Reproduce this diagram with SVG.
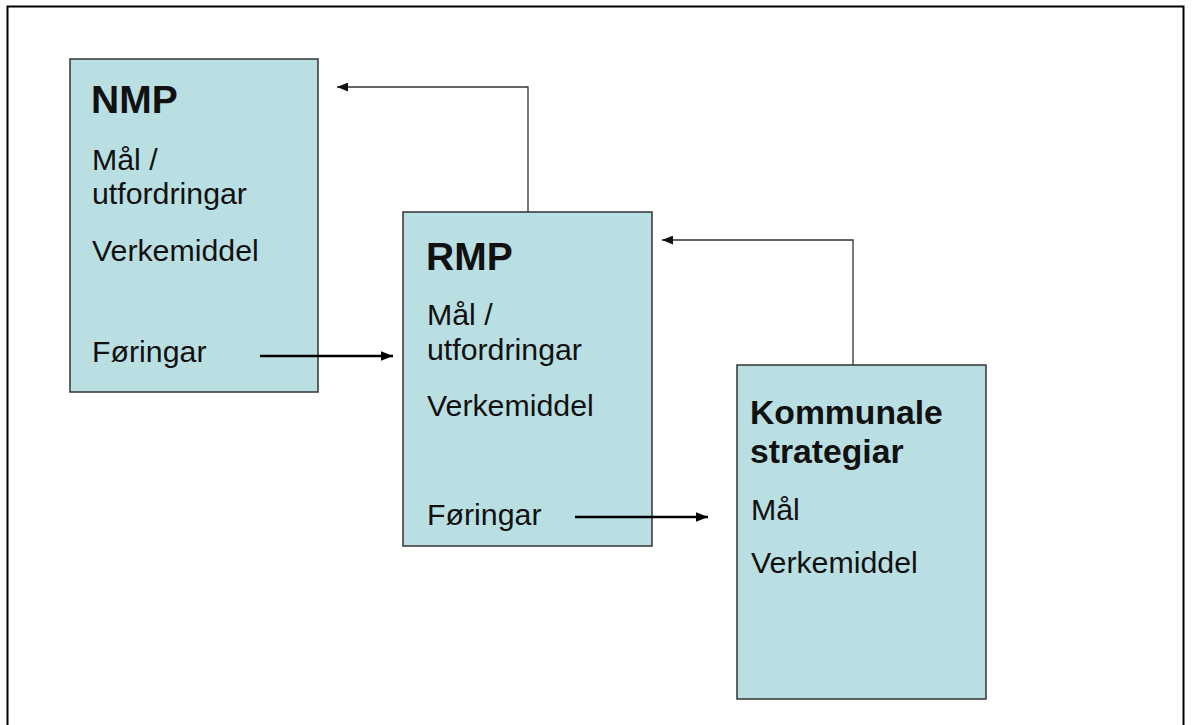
<svg xmlns="http://www.w3.org/2000/svg" width="1194" height="725" viewBox="0 0 1194 725">
<defs>
<style>
.box{fill:#badfe3;stroke:#333;stroke-width:1.5}
.t{font-family:"Liberation Sans",Arial,sans-serif;fill:#111;font-size:30.3px}
.h{font-weight:bold}
.thin{fill:none;stroke:#333;stroke-width:1.3}
.thick{fill:none;stroke:#000;stroke-width:2.5}
</style>
<marker id="aS" viewBox="0 0 10 8" refX="10" refY="4" markerWidth="11" markerHeight="9" markerUnits="userSpaceOnUse" orient="auto"><path d="M0,0L10,4L0,8z" fill="#111"/></marker>
<marker id="aL" viewBox="0 0 10 8" refX="10" refY="4" markerWidth="12" markerHeight="10" markerUnits="userSpaceOnUse" orient="auto"><path d="M0,0L10,4L0,8z" fill="#000"/></marker>
</defs>
<rect width="1194" height="725" fill="#fff"/>
<rect x="7.5" y="6.5" width="1176" height="730" fill="none" stroke="#000" stroke-width="2"/>
<g id="nmp">
<rect class="box" x="70" y="59" width="248" height="333"/>
<text class="t h" x="91" y="113" style="font-size:39px">NMP</text>
<text class="t" x="92" y="170">Mål /</text>
<text class="t" x="92" y="204">utfordringar</text>
<text class="t" x="92" y="261">Verkemiddel</text>
<text class="t" x="92" y="362">Føringar</text>
</g>
<g id="rmp">
<rect class="box" x="403" y="212" width="249" height="334"/>
<text class="t h" x="426" y="270" style="font-size:39px">RMP</text>
<text class="t" x="427" y="325">Mål /</text>
<text class="t" x="427" y="360">utfordringar</text>
<text class="t" x="427" y="416">Verkemiddel</text>
<text class="t" x="427" y="525">Føringar</text>
</g>
<g id="kommunale">
<rect class="box" x="737" y="365" width="249" height="334"/>
<text class="t h" x="750" y="424" style="font-size:33.7px">Kommunale</text>
<text class="t h" x="750" y="463" style="font-size:33.7px">strategiar</text>
<text class="t" x="751" y="520">Mål</text>
<text class="t" x="751" y="573">Verkemiddel</text>
</g>
<g id="connectors">
<path class="thin" d="M528,212V87H337" marker-end="url(#aS)"/>
<path class="thin" d="M853,365V240H662" marker-end="url(#aS)"/>
<path class="thick" d="M260,356H393" marker-end="url(#aL)"/>
<path class="thick" d="M575,517H708" marker-end="url(#aL)"/>
</g>
</svg>
